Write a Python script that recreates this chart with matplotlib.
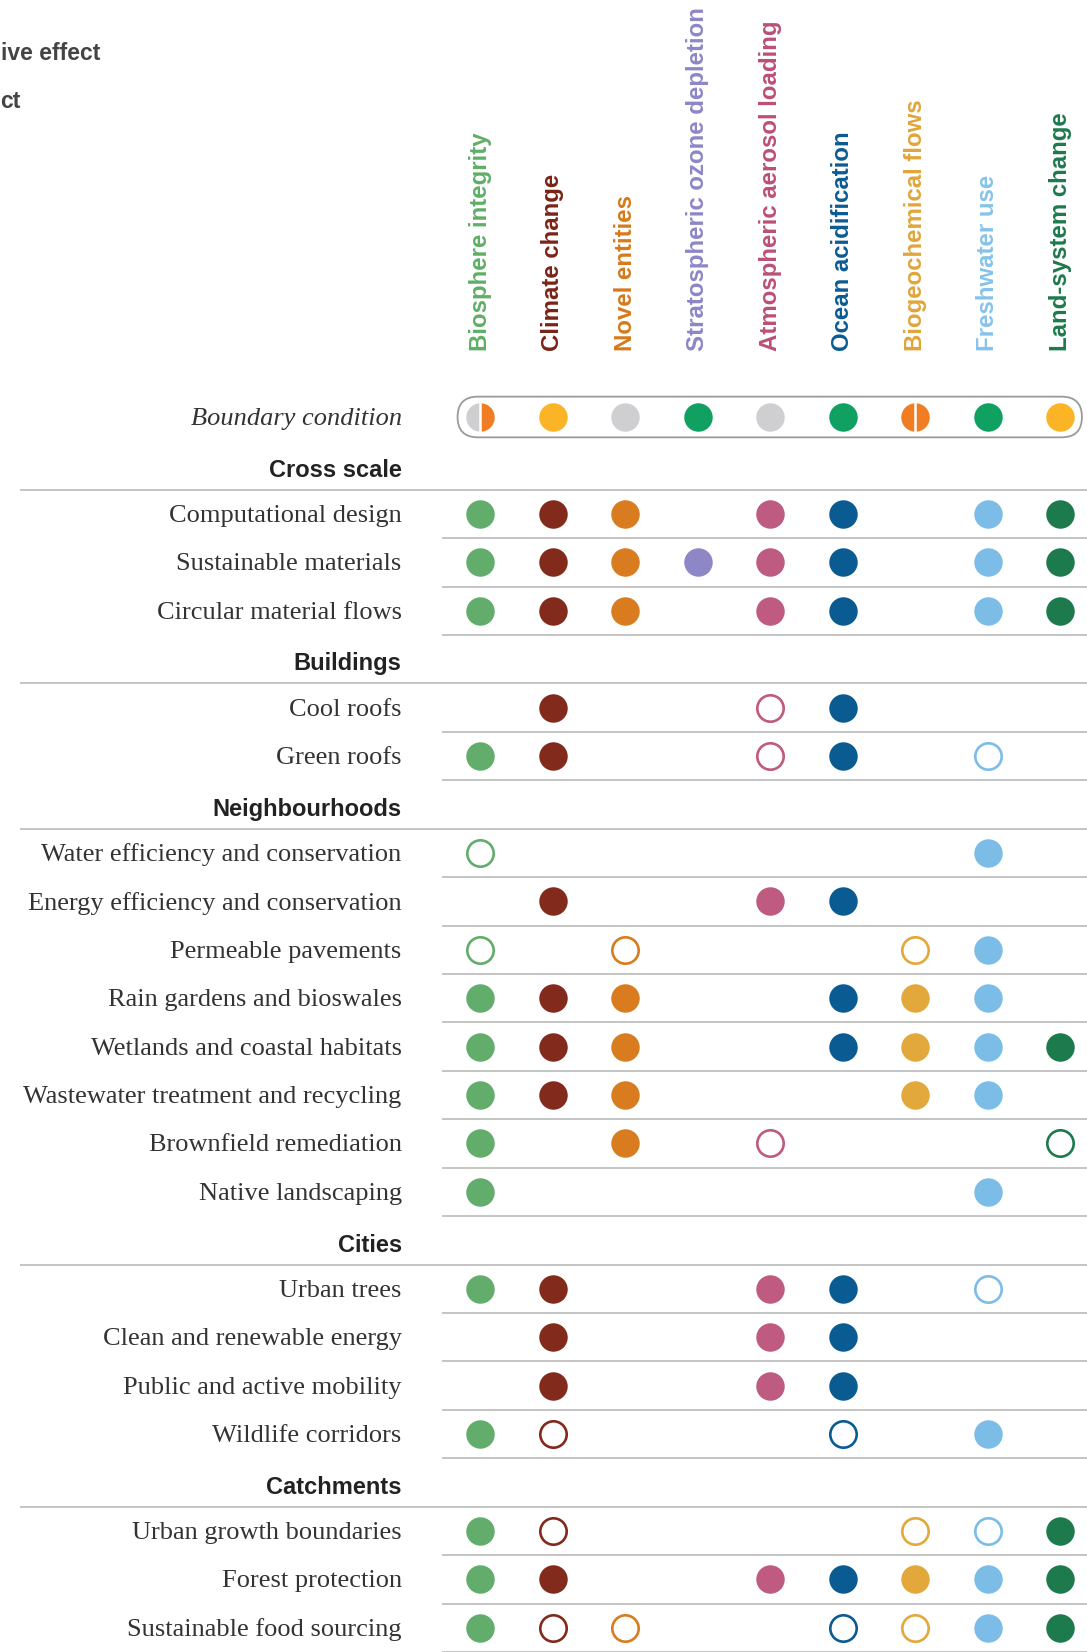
import matplotlib
matplotlib.use("Agg")
import matplotlib.pyplot as plt
import matplotlib.patches as mpatches
import numpy as np

# planetary boundaries (columns)
COLUMNS = [
    "Biosphere integrity", "Climate change", "Novel entities",
    "Stratospheric ozone depletion", "Atmospheric aerosol loading",
    "Ocean acidification", "Biogeochemical flows", "Freshwater use",
    "Land-system change",
]
COL_COLORS = ["#62ad6b", "#822a1c", "#d97c1f", "#8d86c7", "#bf5a80",
              "#0b5b93", "#e3a83b", "#7cbde8", "#1d7a4d"]
LABEL_COLORS = ["#5fae66", "#7a2317", "#d57a1a", "#8d86c7", "#bb4f78",
                "#0b5b93", "#e0a53a", "#86c3ea", "#1d7a4d"]

# boundary condition per column ("left|right" = split circle)
BOUNDARY = ["grey|orange", "yellow", "grey", "green", "grey", "green",
            "orange|orange", "green", "yellow"]
STATUS_COLORS = {"grey": "#cfcfd1", "yellow": "#fbb426",
                 "green": "#10a062", "orange": "#f07c23"}

# legend fragments visible at the cropped left edge
LEGEND_TEXT = ["ive effect", "ct"]

# F = filled (direct) effect, O = open circle, . = nothing
CROSS_SCALE = ["Computational design", "Sustainable materials",
               "Circular material flows"]
CROSS_SCALE_FX = ["FFF.FF.FF", "FFFFFF.FF", "FFF.FF.FF"]

BUILDINGS = ["Cool roofs", "Green roofs"]
BUILDINGS_FX = [".F..OF...", "FF..OF.O."]

NEIGHBOURHOODS = ["Water efficiency and conservation",
                  "Energy efficiency and conservation",
                  "Permeable pavements", "Rain gardens and bioswales",
                  "Wetlands and coastal habitats",
                  "Wastewater treatment and recycling",
                  "Brownfield remediation", "Native landscaping"]
NEIGHBOURHOODS_FX = ["O......F.", ".F..FF...", "O.O...OF.", "FFF..FFF.",
                     "FFF..FFFF", "FFF...FF.", "F.F.O...O", "F......F."]

CITIES = ["Urban trees", "Clean and renewable energy",
          "Public and active mobility", "Wildlife corridors"]
CITIES_FX = ["FF..FF.O.", ".F..FF...", ".F..FF...", "FO...O.F."]

CATCHMENTS = ["Urban growth boundaries", "Forest protection",
              "Sustainable food sourcing"]
CATCHMENTS_FX = ["FO....OOF", "FF..FFFFF", "FOO..OOFF"]

GROUPS = [("Cross scale", CROSS_SCALE, CROSS_SCALE_FX),
          ("Buildings", BUILDINGS, BUILDINGS_FX),
          ("Neighbourhoods", NEIGHBOURHOODS, NEIGHBOURHOODS_FX),
          ("Cities", CITIES, CITIES_FX),
          ("Catchments", CATCHMENTS, CATCHMENTS_FX)]

SANS = ["Liberation Sans", "DejaVu Sans"]
SERIF = ["Liberation Serif", "DejaVu Serif"]
LINE_C = "#c4c4c4"
MS = 20.5


def main():
    fig = plt.figure(figsize=(10.87, 16.52), dpi=100)
    ax = fig.add_axes([0, 0, 1, 1])
    ax.axis("off")
    # x = column index, y = row slot (0 = boundary condition row)
    ax.set_xlim(-6.62, 8.37)
    ax.set_ylim(25.50, -8.61)

    x_lab = -1.08
    x_right = 8.37

    # legend text, cropped at the left edge in the original
    fig.text(0.001, 1 - 53 / 1652, LEGEND_TEXT[0], ha="left", va="center",
             fontsize=16.5, fontweight="bold", color="#444444", family=SANS)
    fig.text(0.0, 1 - 102 / 1652, LEGEND_TEXT[1], ha="left", va="center",
             fontsize=16.5, fontweight="bold", color="#444444", family=SANS)

    # column headers
    for j, name in enumerate(COLUMNS):
        ax.text(j, -1.36, name, rotation=90, ha="center", va="bottom",
                fontsize=17.3, fontweight="bold", color=LABEL_COLORS[j],
                family=SANS)

    # boundary condition row
    ax.text(x_lab, 0.04, "Boundary condition", ha="right", va="center",
            fontsize=19, style="italic", color="#333333", family=SERIF)
    fig.canvas.draw()
    (x0, y0), (x1, y1) = ax.transData.transform([(-0.31, 0.42), (8.3, -0.42)])
    h = y1 - y0
    box = mpatches.FancyBboxPatch((x0 + h / 2, y0 + h / 2), (x1 - x0) - h, 0,
                                  boxstyle=f"round,pad={h / 2},rounding_size={h / 2}",
                                  transform=None, facecolor="none",
                                  edgecolor="#9a9a9a", linewidth=1.3, zorder=1)
    fig.add_artist(box)
    for j, status in enumerate(BOUNDARY):
        if "|" in status:
            left, right = status.split("|")
            ax.plot(j, 0, "o", ms=MS, fillstyle="left",
                    markerfacecolor=STATUS_COLORS[left],
                    markerfacecoloralt=STATUS_COLORS[right],
                    markeredgecolor="none", zorder=3)
            ax.plot(j, 0, "|", ms=MS + 1, mew=1.8, color="white", zorder=4)
        else:
            ax.plot(j, 0, "o", ms=MS, color=STATUS_COLORS[status],
                    markeredgecolor="none", zorder=3)

    slot = 1
    for title, items, effects in GROUPS:
        ax.text(x_lab, slot + 0.1, title, ha="right", va="center",
                fontsize=17, fontweight="bold", color="#222222", family=SANS)
        ax.plot([-6.33, x_right], [slot + 0.5] * 2, color=LINE_C, lw=1.4,
                zorder=1)
        slot += 1
        for item, fx in zip(items, effects):
            ax.text(x_lab, slot + 0.04, item, ha="right", va="center",
                    fontsize=19, color="#333333", family=SERIF)
            ax.plot([-0.51, x_right], [slot + 0.5] * 2, color=LINE_C, lw=1.4,
                    zorder=1)
            for j, code in enumerate(fx):
                if code == "F":
                    ax.plot(j, slot, "o", ms=MS, color=COL_COLORS[j],
                            markeredgecolor="none", zorder=3)
                elif code == "O":
                    ax.plot(j, slot, "o", ms=MS - 1.5, markerfacecolor="white",
                            markeredgecolor=COL_COLORS[j], mew=1.9, zorder=3)
            slot += 1

    fig.savefig("out.png", dpi=100, facecolor="white")
    plt.close(fig)


if __name__ == "__main__":
    main()
